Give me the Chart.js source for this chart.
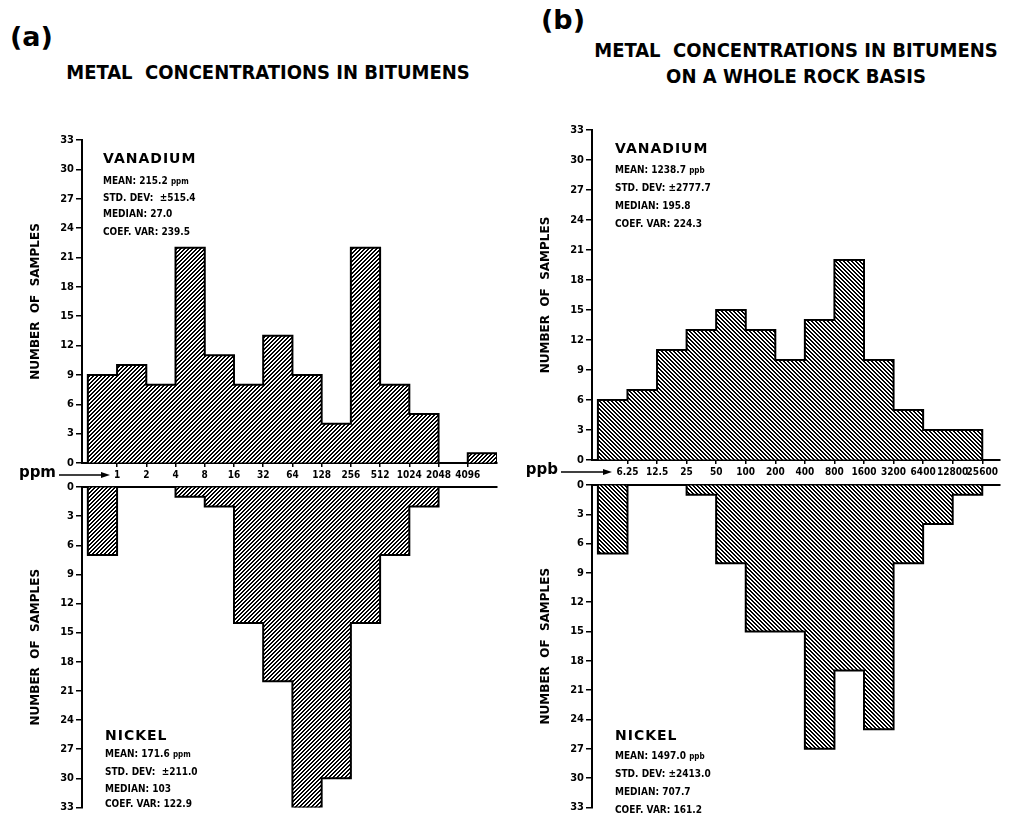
<!DOCTYPE html>
<html>
<head>
<meta charset="utf-8">
<script src="https://cdn.jsdelivr.net/npm/chart.js@4.4.0/dist/chart.umd.min.js"></script>
<style>
  body { margin: 0; background: #fff; }
  #page { position: relative; width: 1009px; height: 816px; overflow: hidden; background: #fff;
          font-family: 'DejaVu Sans Condensed', 'DejaVu Sans', sans-serif; font-weight: bold; color: #000; }
  canvas { position: absolute; }
  .t { position: absolute; white-space: pre; line-height: 1; }
  .panel { font-family: 'DejaVu Sans', sans-serif; font-size: 27px; }
  .title { font-size: 20px; transform: translateX(-50%); }
  .metal { font-family: 'DejaVu Sans', sans-serif; font-size: 14px; letter-spacing: 1px; }
  .stat { font-size: 10px; }
  .unit { font-size: 8px; }
</style>
</head>
<body>
<div id="page">
  <div class="t panel" style="left:10px; top:23px;">(a)</div>
  <div class="t title" style="left:268px; top:62px;">METAL  CONCENTRATIONS IN BITUMENS</div>
  <div class="t panel" style="left:541px; top:6px;">(b)</div>
  <div class="t title" style="left:796px; top:40px;">METAL  CONCENTRATIONS IN BITUMENS</div>
  <div class="t title" style="left:796px; top:66px;">ON A WHOLE ROCK BASIS</div>

  <canvas id="vPpm" width="502" height="367" style="left:0; top:120px;"></canvas>
  <canvas id="nPpm" width="502" height="339" style="left:0; top:477px;"></canvas>
  <canvas id="vPpb" width="495" height="364" style="left:510px; top:120px;"></canvas>
  <canvas id="nPpb" width="495" height="341" style="left:510px; top:475px;"></canvas>

  <div class="t metal" style="left:103px; top:151px;">VANADIUM</div>
  <div class="t stat" style="left:103px; top:176px;">MEAN: 215.2 <span class="unit">ppm</span></div>
  <div class="t stat" style="left:103px; top:193px;">STD. DEV:  ±515.4</div>
  <div class="t stat" style="left:103px; top:209px;">MEDIAN: 27.0</div>
  <div class="t stat" style="left:103px; top:227px;">COEF. VAR: 239.5</div>

  <div class="t metal" style="left:105px; top:728px;">NICKEL</div>
  <div class="t stat" style="left:105px; top:749px;">MEAN: 171.6 <span class="unit">ppm</span></div>
  <div class="t stat" style="left:105px; top:767px;">STD. DEV:  ±211.0</div>
  <div class="t stat" style="left:105px; top:784px;">MEDIAN: 103</div>
  <div class="t stat" style="left:105px; top:799px;">COEF. VAR: 122.9</div>

  <div class="t metal" style="left:615px; top:141px;">VANADIUM</div>
  <div class="t stat" style="left:615px; top:165px;">MEAN: 1238.7 <span class="unit">ppb</span></div>
  <div class="t stat" style="left:615px; top:183px;">STD. DEV: ±2777.7</div>
  <div class="t stat" style="left:615px; top:201px;">MEDIAN: 195.8</div>
  <div class="t stat" style="left:615px; top:219px;">COEF. VAR: 224.3</div>

  <div class="t metal" style="left:615px; top:728px;">NICKEL</div>
  <div class="t stat" style="left:615px; top:751px;">MEAN: 1497.0 <span class="unit">ppb</span></div>
  <div class="t stat" style="left:615px; top:769px;">STD. DEV: ±2413.0</div>
  <div class="t stat" style="left:615px; top:787px;">MEDIAN: 707.7</div>
  <div class="t stat" style="left:615px; top:805px;">COEF. VAR: 161.2</div>
</div>
<script>
// bin edges (tick labels on the x axis)
const ppmLabels = ['1', '2', '4', '8', '16', '32', '64', '128', '256', '512', '1024', '2048', '4096'];
const ppbLabels = ['6.25', '12.5', '25', '50', '100', '200', '400', '800', '1600', '3200', '6400', '12800', '25600'];

// number of samples per bin
const vanadiumPpm = [9, 10, 8, 22, 11, 8, 13, 9, 4, 22, 8, 5, 0, 1];
const nickelPpm = [7, 0, 0, 1, 2, 14, 20, 33, 30, 14, 7, 2, 0, 0];
const vanadiumPpb = [6, 7, 11, 13, 15, 13, 10, 14, 20, 10, 5, 3, 3];
const nickelPpb = [7, 0, 0, 1, 8, 15, 15, 27, 19, 25, 8, 4, 1];

const countTicks = [0, 3, 6, 9, 12, 15, 18, 21, 24, 27, 30, 33];

const FONT = "'DejaVu Sans Condensed', 'DejaVu Sans', sans-serif";

// hachures
function hatch(dir) {
  const c = document.createElement('canvas');
  c.width = 4; c.height = 4;
  const g = c.getContext('2d');
  g.fillStyle = '#fff';
  g.fillRect(0, 0, 4, 4);
  g.fillStyle = '#000';
  for (let x = 0; x < 4; x++) {
    for (let y = 0; y < 4; y++) {
      const k = dir > 0 ? (x + y) % 4 : (x - y + 4) % 4;
      if (k < 2) g.fillRect(x, y, 1, 1);
    }
  }
  return g.createPattern(c, 'repeat');
}

// "ppm ---->" label in the gap between the two halves
const unitArrow = {
  id: 'unitArrow',
  afterDraw(chart, args, opts) {
    if (!opts || !opts.text) return;
    const { ctx, chartArea } = chart;
    const y = chartArea.bottom + 12;
    const x0 = chartArea.left + opts.textRight;
    const x1 = chartArea.left + opts.arrowEnd;
    ctx.save();
    ctx.fillStyle = '#000';
    ctx.strokeStyle = '#000';
    ctx.font = "bold 15px 'DejaVu Sans', sans-serif";
    ctx.textAlign = 'right';
    ctx.textBaseline = 'middle';
    ctx.fillText(opts.text, x0, y - 2);
    ctx.lineWidth = 1.5;
    ctx.beginPath();
    ctx.moveTo(x0 + 3, y);
    ctx.lineTo(x1 - 6, y);
    ctx.stroke();
    ctx.beginPath();
    ctx.moveTo(x1, y);
    ctx.lineTo(x1 - 9, y - 3);
    ctx.lineTo(x1 - 9, y + 3);
    ctx.closePath();
    ctx.fill();
    ctx.restore();
  }
};

function outline(values) {
  const pts = [{ x: 0, y: 0 }];
  values.forEach((v, i) => pts.push({ x: i, y: v }));
  pts.push({ x: values.length, y: 0 });
  return pts;
}

function histogram(id, values, labels, opt) {
  const ctx = document.getElementById(id).getContext('2d');
  return new Chart(ctx, {
    type: 'bar',
    data: {
      datasets: [{
        type: 'line',
        data: outline(values),
        stepped: true,
        borderColor: '#000',
        borderWidth: 2,
        pointRadius: 0,
        fill: false,
        order: 0
      }, {
        type: 'bar',
        data: values.map((v, i) => ({ x: i + 0.5, y: v })),
        backgroundColor: hatch(opt.dir),
        borderWidth: 0,
        barPercentage: 1,
        categoryPercentage: 1,
        order: 1
      }]
    },
    options: {
      responsive: false,
      animation: false,
      layout: { padding: opt.padding },
      plugins: {
        legend: { display: false },
        tooltip: { enabled: false },
        unitArrow: opt.arrow || {}
      },
      scales: {
        x: {
          type: 'linear',
          offset: false,
          position: opt.lower ? 'top' : 'bottom',
          min: -0.2,
          max: opt.xMax,
          afterBuildTicks: axis => { axis.ticks = labels.map((l, i) => ({ value: i + 1 })); },
          afterFit: axis => { axis.height = opt.lower ? 0 : 24; },
          grid: {
            offset: false,
            drawOnChartArea: false,
            drawTicks: !opt.lower,
            tickLength: 4,
            color: '#000',
            lineWidth: 1.5
          },
          border: { display: true, color: '#000', width: 2 },
          ticks: {
            display: !opt.lower,
            autoSkip: false,
            maxRotation: 0,
            padding: 2,
            color: '#000',
            font: { family: FONT, weight: 'bold', size: 10 },
            callback: value => labels[value - 1]
          }
        },
        y: {
          min: 0,
          max: 33,
          reverse: !!opt.lower,
          afterBuildTicks: axis => { axis.ticks = countTicks.map(v => ({ value: v })); },
          afterFit: axis => { axis.width = 82; },
          grid: {
            drawOnChartArea: false,
            tickLength: 6,
            color: '#000',
            lineWidth: 1.5
          },
          border: { display: true, color: '#000', width: 2 },
          ticks: {
            padding: 2,
            color: '#000',
            font: { family: FONT, weight: 'bold', size: 11 }
          },
          title: {
            display: true,
            text: 'NUMBER  OF  SAMPLES',
            color: '#000',
            padding: { top: 29, bottom: 0 },
            font: { family: "'DejaVu Sans', sans-serif", weight: 'bold', size: 12 }
          }
        }
      }
    },
    plugins: [unitArrow]
  });
}

// (a) concentrations in bitumens
histogram('vPpm', vanadiumPpm, ppmLabels, {
  dir: 1, xMax: 14, padding: { top: 20, right: 5, left: 0, bottom: 0 },
  arrow: { text: 'ppm', textRight: -26, arrowEnd: 28 }
});
histogram('nPpm', nickelPpm, ppmLabels, {
  dir: 1, xMax: 14, lower: true, padding: { top: 10, right: 5, left: 0, bottom: 6 }
});

// (b) whole rock basis
histogram('vPpb', vanadiumPpb, ppbLabels, {
  dir: -1, xMax: 13.6, padding: { top: 10, right: 5, left: 0, bottom: 0 },
  arrow: { text: 'ppb', textRight: -34, arrowEnd: 20 }
});
histogram('nPpb', nickelPpb, ppbLabels, {
  dir: -1, xMax: 13.6, lower: true, padding: { top: 10, right: 5, left: 0, bottom: 4 }
});
</script>
</body>
</html>
